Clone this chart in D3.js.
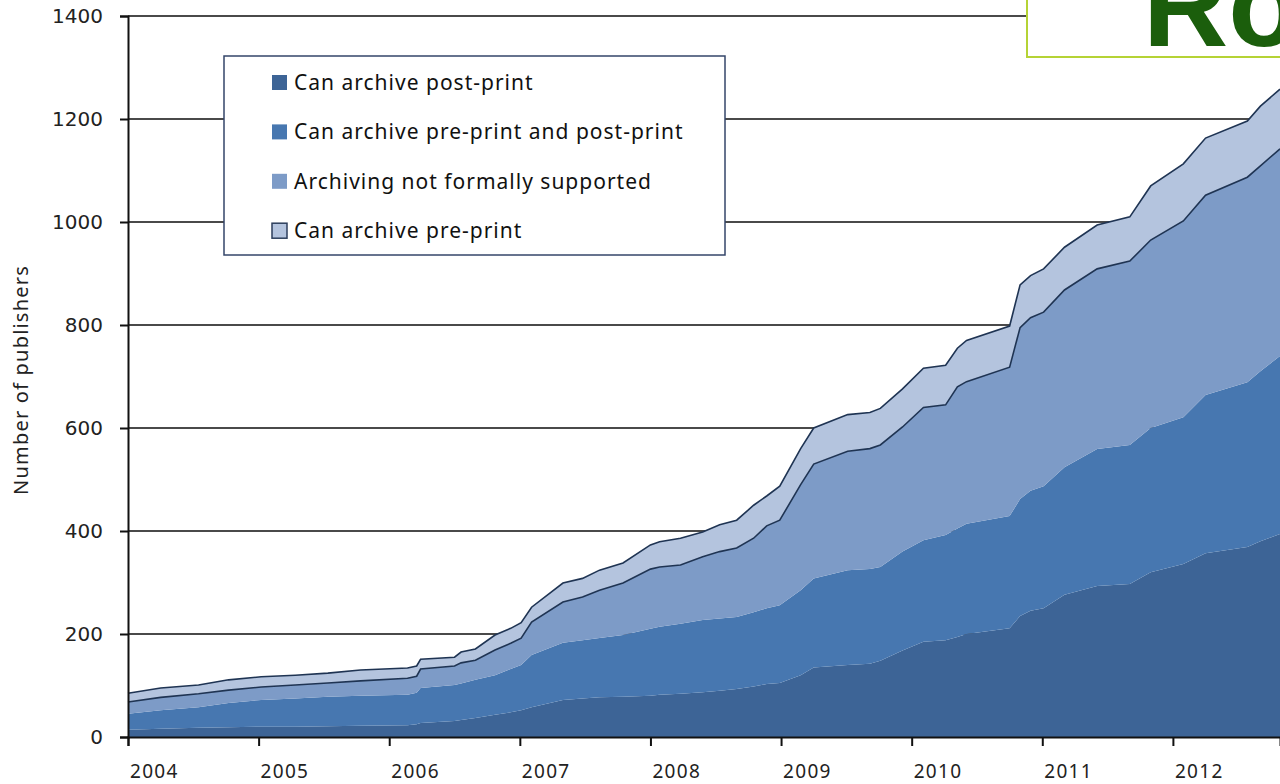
<!DOCTYPE html>
<html>
<head>
<meta charset="utf-8">
<title>Publishers by archiving policy</title>
<script src="https://cdn.jsdelivr.net/npm/d3@7"></script>
<style>
  body { margin: 0; background: #fff; }
  svg { display: block; }
</style>
</head>
<body>
<div id="chart"></div>
<script>
// decimal years of each reading
var years = [2004.00, 2004.25, 2004.54, 2004.77, 2005.02, 2005.28, 2005.53, 2005.78, 2006.14, 2006.21,
  2006.24, 2006.50, 2006.55, 2006.66, 2006.81, 2006.93, 2007.01, 2007.09, 2007.33, 2007.48,
  2007.61, 2007.79, 2008.00, 2008.07, 2008.23, 2008.40, 2008.53, 2008.66, 2008.79, 2008.89,
  2008.99, 2009.15, 2009.25, 2009.51, 2009.68, 2009.76, 2009.93, 2010.09, 2010.26, 2010.35,
  2010.42, 2010.75, 2010.83, 2010.91, 2011.01, 2011.17, 2011.42, 2011.67, 2011.83, 2012.08,
  2012.25, 2012.57, 2012.67, 2012.82];

var postPrint = [14, 16, 18, 19, 20, 20, 21, 22, 23, 25,
  27, 31, 33, 37, 43, 48, 52, 58, 72, 75,
  77, 78, 80, 82, 84, 87, 90, 93, 98, 103,
  105, 120, 135, 140, 142, 148, 168, 185, 188, 194,
  200, 211, 235, 245, 250, 276, 293, 297, 320, 336,
  357, 369, 380, 394];

var prePostPrint = [31, 36, 40, 47, 52, 55, 57, 58, 59, 61,
  68, 70, 71, 74, 77, 84, 88, 101, 111, 113,
  115, 120, 130, 132, 136, 140, 140, 140, 144, 147,
  151, 165, 173, 184, 184, 182, 192, 197, 204, 211,
  214, 218, 227, 233, 237, 248, 266, 270, 280, 285,
  307, 320, 330, 346];

var notSupported = [23, 25, 26, 25, 25, 26, 27, 29, 32, 32,
  37, 37, 40, 38, 49, 50, 52, 64, 79, 84,
  93, 101, 116, 116, 114, 123, 130, 134, 144, 160,
  165, 205, 222, 231, 234, 237, 242, 258, 253, 275,
  276, 289, 333, 336, 338, 344, 350, 357, 365, 381,
  388, 398, 399, 402];

var prePrint = [17, 18, 17, 20, 20, 19, 19, 21, 20, 20,
  19, 17, 21, 22, 29, 29, 30, 29, 37, 36,
  39, 39, 47, 49, 52, 48, 52, 54, 64, 58,
  66, 70, 70, 71, 70, 71, 74, 76, 77, 75,
  80, 80, 83, 82, 84, 83, 85, 86, 105, 111,
  111, 109, 116, 116];

var seriesNames = ["Can archive post-print", "Can archive pre-print and post-print",
  "Archiving not formally supported", "Can archive pre-print"];
var colors = ["#3d6496", "#4777b0", "#7d9bc7", "#b4c4de"];
var yTicks = [0, 200, 400, 600, 800, 1000, 1200, 1400];
var xTicks = [2004, 2005, 2006, 2007, 2008, 2009, 2010, 2011, 2012];

function drawChart() {
  var w = 1280, h = 784;
  var padLeft = 128, padRight = 1280, padTop = 16, padBottom = 737;

  var rows = years.map(function(y, i) {
    return {year: y, s0: postPrint[i], s1: prePostPrint[i], s2: notSupported[i], s3: prePrint[i]};
  });

  var canvas = d3.select("#chart").append("svg")
    .attr("width", w)
    .attr("height", h);

  var xScale = d3.scaleLinear().domain([2004, 2012.82]).range([padLeft, padRight]);
  var yScale = d3.scaleLinear().domain([0, 1400]).range([padBottom, padTop]);

  // gridlines
  canvas.append("g").selectAll("line")
    .data(yTicks.slice(1))
    .enter().append("line")
    .attr("x1", padLeft).attr("x2", padRight)
    .attr("y1", function(d) { return yScale(d); })
    .attr("y2", function(d) { return yScale(d); })
    .attr("stroke", "#4a4a4a")
    .attr("stroke-width", 2);

  var stack = d3.stack().keys(["s0", "s1", "s2", "s3"]);
  var layers = stack(rows);

  var area = d3.area()
    .x(function(d) { return xScale(d.data.year); })
    .y0(function(d) { return yScale(d[0]); })
    .y1(function(d) { return yScale(d[1]); });

  canvas.append("g").selectAll("path")
    .data(layers)
    .enter().append("path")
    .attr("d", area)
    .attr("fill", function(d, i) { return colors[i]; });

  // dark edges on the two upper bands
  var edge = d3.line()
    .x(function(d) { return xScale(d.data.year); })
    .y(function(d) { return yScale(d[1]); });

  canvas.append("g").selectAll("path")
    .data(layers.slice(2))
    .enter().append("path")
    .attr("d", edge)
    .attr("fill", "none")
    .attr("stroke", "#1f3453")
    .attr("stroke-width", 1.6);

  // axes
  var yAxis = d3.axisLeft(yScale).tickValues(yTicks).tickSize(8).tickFormat("");
  var gy = canvas.append("g")
    .attr("transform", "translate(" + padLeft + ",0)")
    .call(yAxis);
  gy.select(".domain").attr("stroke", "#111").attr("stroke-width", 2);
  gy.selectAll(".tick line").attr("stroke", "#111").attr("stroke-width", 2);

  canvas.append("g").selectAll("text")
    .data(yTicks)
    .enter().append("text")
    .attr("x", padLeft - 25)
    .attr("y", function(d) { return yScale(d) + 7; })
    .attr("text-anchor", "end")
    .attr("font-family", "DejaVu Sans")
    .attr("font-size", "20px")
    .attr("fill", "#222")
    .text(function(d) { return d; });

  var xAxis = d3.axisBottom(xScale).tickValues(xTicks).tickSize(9).tickFormat("");
  var gx = canvas.append("g")
    .attr("transform", "translate(0," + padBottom + ")")
    .call(xAxis);
  gx.select(".domain").attr("stroke", "#111").attr("stroke-width", 2);
  gx.selectAll(".tick line").attr("stroke", "#111").attr("stroke-width", 2);

  canvas.append("g").selectAll("text")
    .data(xTicks)
    .enter().append("text")
    .attr("x", function(d) { return xScale(d) + 2; })
    .attr("y", 778)
    .attr("font-family", "Noto Sans")
    .attr("font-size", "19px")
    .attr("letter-spacing", "1.3px")
    .attr("fill", "#222")
    .text(function(d) { return d; });

  canvas.append("text")
    .attr("transform", "translate(28,380) rotate(-90)")
    .attr("text-anchor", "middle")
    .attr("font-family", "Noto Sans")
    .attr("font-size", "20px")
    .attr("letter-spacing", "1.2px")
    .attr("fill", "#222")
    .text("Number of publishers");

  // legend
  var legend = canvas.append("g");
  legend.append("rect")
    .attr("x", 224).attr("y", 56)
    .attr("width", 501).attr("height", 199)
    .attr("fill", "#fff")
    .attr("stroke", "#34466a")
    .attr("stroke-width", 1.5);

  var items = legend.selectAll("g.item")
    .data(seriesNames)
    .enter().append("g")
    .attr("class", "item")
    .attr("transform", function(d, i) { return "translate(272," + (83 + i * 49.4) + ")"; });

  items.append("rect")
    .attr("x", 0).attr("y", -8)
    .attr("width", 15).attr("height", 15)
    .attr("fill", function(d, i) { return colors[i]; })
    .attr("stroke", function(d, i) { return i === 3 ? "#2c3e5c" : "none"; })
    .attr("stroke-width", 1.5);

  items.append("text")
    .attr("x", 22).attr("y", 7)
    .attr("font-family", "Noto Sans")
    .attr("font-size", "21px")
    .attr("letter-spacing", "1px")
    .attr("fill", "#111")
    .text(function(d) { return d; });

  // logo box at the top right
  canvas.append("rect")
    .attr("x", 1027).attr("y", -10)
    .attr("width", 270).attr("height", 67)
    .attr("fill", "#fff")
    .attr("stroke", "#b5d335")
    .attr("stroke-width", 2);

  canvas.append("text")
    .attr("x", 1143).attr("y", 46)
    .attr("font-family", "Liberation Sans")
    .attr("font-weight", "bold")
    .attr("font-size", "118px")
    .attr("fill", "#1b5e0c")
    .text("Ro");
}

drawChart();
</script>
</body>
</html>
